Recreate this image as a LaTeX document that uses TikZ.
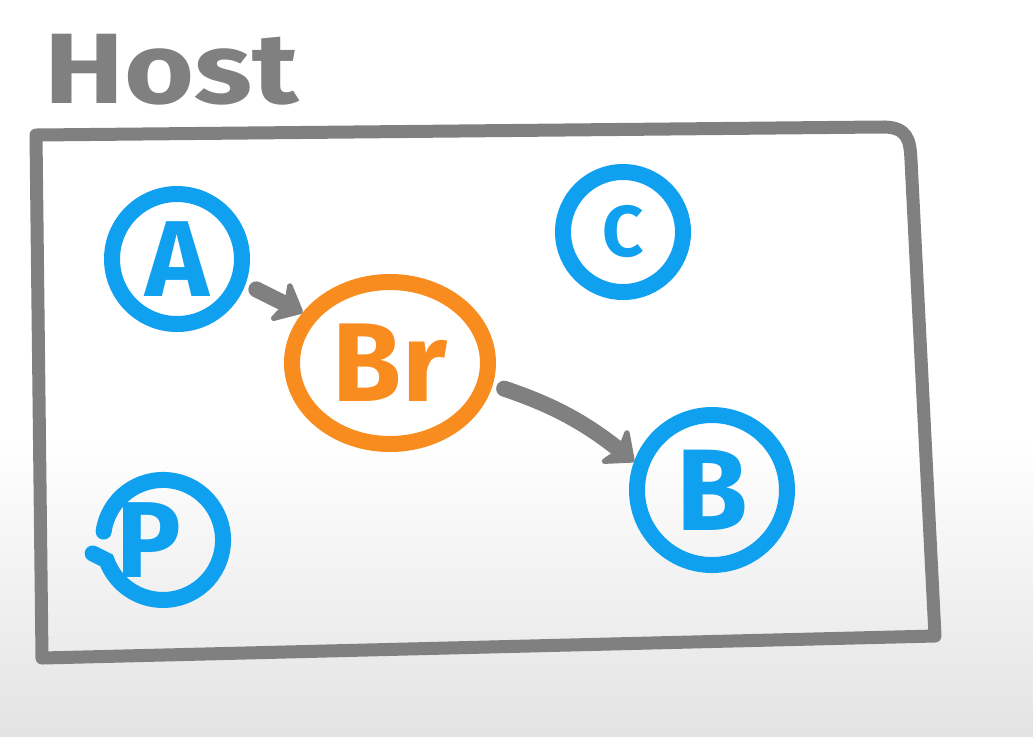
\documentclass[tikz,border=0pt]{standalone}
\usepackage{fontspec}
\setmainfont{Fira Sans}
\usetikzlibrary{arrows.meta,positioning,shapes.geometric}
\definecolor{penblue}{RGB}{16,160,240}
\definecolor{penorange}{RGB}{248,140,30}
\definecolor{pengray}{RGB}{128,128,128}
\begin{document}
\begin{tikzpicture}[x=0.5pt, y=-0.5pt,
    letter/.style={font=\bfseries\fontsize{#1}{#1}\selectfont},
    pc/.style={circle, draw=penblue, line width=8pt, text=penblue, minimum size=#1},
    arr/.style={draw=pengray, line width=8pt, line cap=round,
      -{Stealth[length=15pt, width=26pt, inset=4pt, round]}, shorten <=6pt}]
  \useasboundingbox (0,0) rectangle (1033,736);
  \shade[top color=white, bottom color=black!11] (0,440) rectangle (1033,736);

  % title and frame
  \node (host) [text=pengray, letter=50, xscale=1.2] at (172,70) {Host};
  \draw[pengray, line width=6.5pt, line join=round, line cap=round]
    (36,135) -- (880,127) .. controls (908,126) and (910,140) .. (911,160)
    -- (935,636) -- (42,658) -- cycle;

  % hosts on the bridge
  \node (a) [pc=65pt, letter=54] at (177,259) {A};
  \node (c) [pc=60pt, letter=36] at (623,232) {C};
  \node (b) [pc=75pt, letter=58] at (712,490) {B};
  \node (p) [text=penblue, letter=54, inner sep=0pt] at (163,540) {\hspace*{-14pt}P};
  \draw[penblue, line width=8pt, line cap=round]
    ([shift={(-29.7pt,4.2pt)}]p.center) arc[start angle=172, end angle=-160, radius=30pt]
    -- ++(-7pt,3.5pt);

  % bridge
  \node (br) [ellipse, draw=penorange, line width=8pt, text=penorange,
    minimum width=98pt, minimum height=81pt, letter=56] at (390,363) {Br};

  \draw[arr] (a.-20) -- (br.150);
  \draw[arr] (br.-12) to[bend left=10] (b.160);
\end{tikzpicture}
\end{document}
